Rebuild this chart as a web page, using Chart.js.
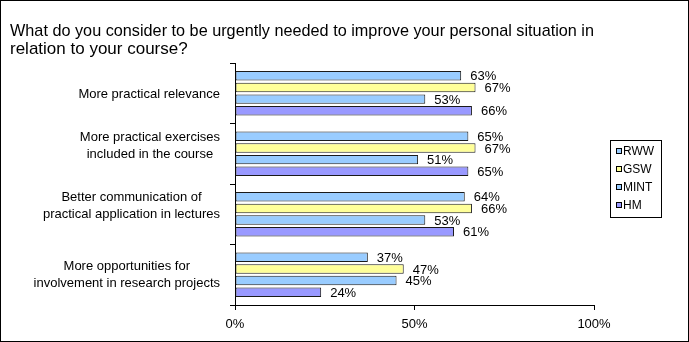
<!DOCTYPE html>
<html>
<head>
<meta charset="utf-8">
<script src="https://cdn.jsdelivr.net/npm/chart.js@4/dist/chart.umd.min.js"></script>
<style>
  html, body { margin: 0; padding: 0; background: #fff; }
  #wrap { position: relative; width: 689px; height: 342px; }
</style>
</head>
<body>
<div id="wrap"><canvas id="chart" width="689" height="342"></canvas></div>
<script>
// Survey answers, share of respondents per faculty group
const categories = [
    ['More practical relevance'],
    ['More practical exercises', 'included in the course'],
    ['Better communication of', 'practical application in lectures'],
    ['More opportunities for', 'involvement in research projects']
];
const groups = ['RWW', 'GSW', 'MINT', 'HM'];
const rww  = [63, 65, 64, 37];
const gsw  = [67, 67, 66, 47];
const mint = [53, 51, 53, 45];
const hm   = [66, 65, 61, 24];
const xTicks = [0, 50, 100];

const fills = ['#99ccff', '#ffff99', '#99ccff', '#9999ff'];
const FONT = 'Arial, "Liberation Sans", sans-serif';
// small vertical nudge of each category caption
const captionShift = [1, -8, -8, 0];

// value labels right of each bar
const barLabels = {
    id: 'barLabels',
    afterDatasetsDraw(chart) {
        const c = chart.ctx;
        c.save();
        c.font = '13px ' + FONT;
        c.fillStyle = '#000';
        c.textBaseline = 'middle';
        c.textAlign = 'left';
        chart.data.datasets.forEach((ds, i) => {
            chart.getDatasetMeta(i).data.forEach((bar, j) => {
                c.fillText(ds.data[j] + '%', bar.x + 9, bar.y + 1);
            });
        });
        c.restore();
    }
};

// category captions: block right-aligned to the axis, lines centred inside it
const captions = {
    id: 'captions',
    afterDraw(chart) {
        const c = chart.ctx;
        const y = chart.scales.y;
        const right = chart.chartArea.left - 15;
        const lh = 17;
        c.save();
        c.font = '13px ' + FONT;
        c.fillStyle = '#000';
        c.textAlign = 'center';
        c.textBaseline = 'middle';
        chart.data.labels.forEach((lines, i) => {
            const w = Math.max(...lines.map(l => c.measureText(l).width));
            const cx = right - w / 2;
            const cy = y.getPixelForValue(i) + captionShift[i] - (lines.length - 1) * lh / 2;
            lines.forEach((l, k) => c.fillText(l, cx, cy + k * lh));
        });
        c.restore();
    }
};

// boxed legend on the right plus outer frame
const frame = {
    id: 'frame',
    afterDraw(chart) {
        const c = chart.ctx;
        c.save();
        c.strokeStyle = '#000';
        c.lineWidth = 1;
        c.strokeRect(0.5, 0.5, chart.width - 1, chart.height - 1);

        const lx = 610, ly = 140, lw = 51, lh = 77;
        c.strokeRect(lx + 0.5, ly + 0.5, lw, lh);
        c.font = '12px ' + FONT;
        c.textBaseline = 'middle';
        groups.forEach((g, i) => {
            const y = ly + 11 + i * 18;
            c.fillStyle = fills[i];
            c.fillRect(lx + 6, y - 3, 6, 6);
            c.strokeStyle = '#000';
            c.strokeRect(lx + 6.5, y - 2.5, 5, 5);
            c.fillStyle = '#000';
            c.fillText(g, lx + 13, y + 1);
        });
        c.restore();
    }
};

const series = [rww, gsw, mint, hm];

new Chart(document.getElementById('chart'), {
    type: 'bar',
    data: {
        labels: categories,
        datasets: groups.map((g, i) => ({
            label: g,
            data: series[i],
            backgroundColor: fills[i],
            borderColor: '#1a1a1a',
            borderWidth: 1,
            borderSkipped: false,
            categoryPercentage: 0.77,
            barPercentage: 0.81
        }))
    },
    options: {
        indexAxis: 'y',
        responsive: false,
        animation: false,
        events: [],
        layout: { padding: { left: 10, right: 95, top: 0, bottom: 0 } },
        scales: {
            x: {
                min: 0,
                max: 100,
                afterBuildTicks: s => { s.ticks = xTicks.map(v => ({ value: v })); },
                ticks: {
                    callback: v => v + '%',
                    color: '#000',
                    font: { family: FONT, size: 13 },
                    padding: 7
                },
                grid: { drawOnChartArea: false, color: '#000', tickLength: 5 },
                border: { color: '#000' },
                afterFit: s => { s.height = 37; }
            },
            y: {
                ticks: { display: false },
                grid: { drawOnChartArea: false, color: '#000', tickLength: 5, offset: true },
                border: { color: '#000' },
                afterFit: s => { s.width = 225; }
            }
        },
        plugins: {
            legend: { display: false },
            tooltip: { enabled: false },
            title: {
                display: true,
                align: 'start',
                text: ['What do you consider to be urgently needed to improve your personal situation in',
                       'relation to your course?'],
                color: '#000',
                font: { family: FONT, size: 17, weight: 'normal', lineHeight: 1.06 },
                padding: { top: 22, bottom: 5 }
            }
        }
    },
    plugins: [barLabels, captions, frame]
});
</script>
</body>
</html>
